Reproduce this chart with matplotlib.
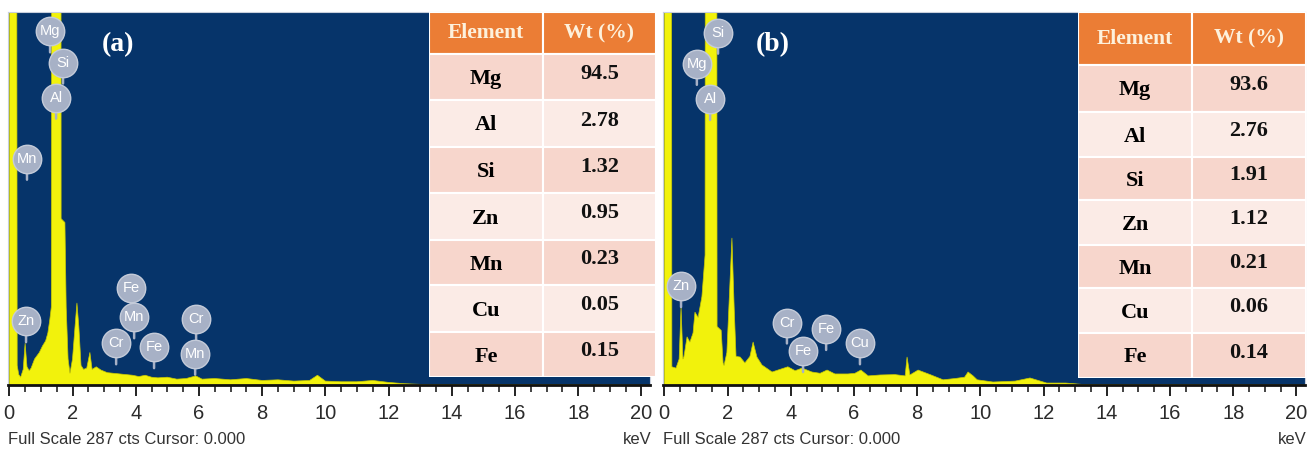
import matplotlib
matplotlib.use("Agg")
import matplotlib.pyplot as plt
from matplotlib.patches import Rectangle
from matplotlib import font_manager

W, H, DPI = 1309, 455, 100

# ---------------- data ----------------
FULL_SCALE = 287  # cts

energy_a = [0.00, 0.03, 0.20, 0.25, 0.30, 0.36, 0.44, 0.50, 0.56, 0.63, 0.69, 0.80,
            0.95, 1.05, 1.15, 1.22, 1.28, 1.33, 1.38, 1.62, 1.64, 1.76, 1.80, 1.86,
            1.92, 2.00, 2.08, 2.14, 2.20, 2.27, 2.35, 2.45, 2.55, 2.62, 2.75, 2.90,
            3.10, 3.30, 3.50, 3.70, 3.90, 4.10, 4.30, 4.50, 4.70, 5.00, 5.30, 5.60,
            5.90, 6.10, 6.50, 7.00, 7.50, 8.00, 8.50, 9.00, 9.50, 9.75, 10.00, 10.50,
            11.00, 11.50, 12.00, 12.50, 13.00, 20.30]
counts_a = [0, 1200, 1200, 15, 8, 6, 12, 32, 14, 11, 13, 20,
            25, 30, 34, 40, 50, 60, 1200, 1200, 128, 125, 60, 20,
            9, 20, 45, 63, 45, 15, 12, 13, 25, 12, 14, 11.5,
            9.5, 9, 8.5, 8, 7.5, 6.5, 7.5, 6, 5.5, 6, 4.5, 5,
            7, 4.5, 5, 4, 5, 3.5, 4, 3, 3.5, 7.5, 3, 2.5,
            2.5, 3.5, 2, 1, 0.5, 0]

energy_b = [0.00, 0.03, 0.20, 0.24, 0.37, 0.47, 0.53, 0.59, 0.62, 0.72, 0.81, 0.91,
            0.97, 1.07, 1.19, 1.29, 1.32, 1.64, 1.67, 1.80, 1.86, 1.89, 1.98, 2.08,
            2.14, 2.21, 2.27, 2.40, 2.55, 2.71, 2.81, 2.93, 3.09, 3.41, 3.66, 3.91,
            4.14, 4.36, 4.67, 4.93, 5.15, 5.40, 5.81, 6.03, 6.22, 6.45, 6.82, 7.30,
            7.62, 7.68, 7.77, 8.03, 8.41, 8.82, 9.20, 9.50, 9.61, 9.77, 9.90, 10.40,
            11.10, 11.57, 12.10, 12.70, 13.20, 20.30]
counts_b = [0, 1200, 1200, 14, 13, 20, 60, 20, 21.5, 37, 33, 40,
            56, 52, 68, 100, 1200, 1200, 45, 42, 17, 15, 25, 80,
            113, 60, 22, 21.5, 17, 22, 33, 21.5, 15.4, 10, 12, 14,
            11, 13, 10, 9, 11.5, 8.5, 8.5, 9, 11.5, 7, 7.7, 8,
            7, 21.5, 7.7, 11.5, 8, 4, 5, 6, 10, 7, 4, 2.3,
            3, 5.4, 1.5, 1.5, 0.5, 0]

# peak identification badges: (element, keV, cts)
peaks_a = [("Mg", 1.29, 272), ("Si", 1.70, 248), ("Al", 1.48, 221),
           ("Mn", 0.56, 174), ("Zn", 0.53, 49), ("Fe", 3.85, 75),
           ("Mn", 3.95, 52), ("Cr", 3.38, 32), ("Fe", 4.58, 29),
           ("Cr", 5.91, 51), ("Mn", 5.88, 24)]
peaks_b = [("Si", 1.70, 271), ("Mg", 1.03, 247), ("Al", 1.45, 220),
           ("Zn", 0.53, 76), ("Cr", 3.88, 48), ("Fe", 4.39, 26),
           ("Fe", 5.12, 43), ("Cu", 6.19, 32)]

table_header = ["Element", "Wt (%)"]
elements = ["Mg", "Al", "Si", "Zn", "Mn", "Cu", "Fe"]
wt_a = ["94.5", "2.78", "1.32", "0.95", "0.23", "0.05", "0.15"]
wt_b = ["93.6", "2.76", "1.91", "1.12", "0.21", "0.06", "0.14"]

xtick_labels = [str(v) for v in range(0, 21, 2)]

# ---------------- style ----------------
NAVY = "#06346a"
YELLOW = "#f2f20c"
BADGE = "#a7b1c6"
ORANGE = "#eb7d35"
ROW_DARK = "#f7d6cc"
ROW_LIGHT = "#fbebe6"
HEAD_TXT = "#fdf1dc"


def pick(*names):
    for n in names:
        try:
            font_manager.findfont(n, fallback_to_default=False)
            return n
        except Exception:
            pass
    return "DejaVu Sans"


SANS = pick("Liberation Sans Narrow", "Liberation Sans", "Arial")
SERIF = pick("Liberation Serif", "Times New Roman", "DejaVu Serif")

fig = plt.figure(figsize=(W / DPI, H / DPI), dpi=DPI)
fig.patch.set_facecolor("white")


def px_axes(x0, y0, x1, y1):
    return fig.add_axes([x0 / W, 1 - y1 / H, (x1 - x0) / W, (y1 - y0) / H])


def spectrum(x0, x1, energy, counts, peaks, tag):
    ax = px_axes(x0, 12, x1, 385)
    ax.set_facecolor(NAVY)
    ax.fill_between(energy, counts, 0, color=YELLOW, lw=0, zorder=2)
    ax.plot(energy, counts, color="#c9c900", lw=0.5, zorder=2)
    ax.set_xlim(-0.041, 20.27)
    ax.set_ylim(0, FULL_SCALE)
    for s in ("left", "top", "right"):
        ax.spines[s].set_color("#c8cfdc")
        ax.spines[s].set_linewidth(0.8)
    ax.spines["bottom"].set_color("#111111")
    ax.spines["bottom"].set_linewidth(2)
    ax.set_yticks([])
    ax.set_xticks(range(0, 21, 2))
    ax.set_xticklabels(xtick_labels, fontfamily=SANS, fontsize=14.5, color="#2b2b2b")
    ax.set_xticks([v * 0.5 for v in range(41)], minor=True)
    ax.tick_params(axis="x", which="major", direction="out", length=8, width=1.3,
                   color="#111111", pad=6)
    ax.tick_params(axis="x", which="minor", direction="out", length=5, width=1.1,
                   color="#111111")
    for name, e, c in peaks:
        ax.annotate("", xy=(e, c), xytext=(0, -15), textcoords="offset points",
                    xycoords="data",
                    arrowprops=dict(arrowstyle="-", color=BADGE, lw=1.8,
                                    shrinkA=0, shrinkB=0), zorder=5)
        ax.scatter([e], [c], s=420, color=BADGE, edgecolors="#c4cbd9",
                   linewidths=1.0, zorder=6)
        ax.text(e, c, name, ha="center", va="center", color="white",
                fontsize=10.5, fontfamily=SANS, zorder=7)
    ax.text(0.171, 0.912, tag, transform=ax.transAxes, ha="center", va="center",
            color="white", fontsize=20, fontweight="bold", fontfamily=SERIF, zorder=7)
    return ax


def table(x0, split, x1, edges, wts):
    ax = px_axes(x0, edges[0], x1, edges[-1])
    ax.set_xlim(x0, x1)
    ax.set_ylim(edges[-1], edges[0])
    ax.axis("off")
    cols = [(x0, split), (split, x1)]
    top, bot = edges[0], edges[1]
    for (a, b), txt in zip(cols, table_header):
        ax.add_patch(Rectangle((a, top), b - a, bot - top, facecolor=ORANGE,
                               edgecolor="white", lw=1.5))
        ax.text((a + b) / 2, (top + bot) / 2, txt, ha="center", va="center",
                fontsize=15.5, fontweight="bold", fontfamily=SERIF, color=HEAD_TXT)
    for i, (el, wt) in enumerate(zip(elements, wts)):
        t, b_ = edges[i + 1], edges[i + 2]
        face = ROW_DARK if i % 2 == 0 else ROW_LIGHT
        for (a, b) in cols:
            ax.add_patch(Rectangle((a, t), b - a, b_ - t, facecolor=face,
                                   edgecolor="white", lw=1.5))
        mid = (t + b_) / 2
        ax.text((x0 + split) / 2, mid + 2, el, ha="center", va="center",
                fontsize=16, fontweight="bold", fontfamily=SERIF, color="black")
        ax.text((split + x1) / 2, mid - 3, wt, ha="center", va="center",
                fontsize=16, fontweight="bold", fontfamily=SERIF, color="#111111")
    return ax


spectrum(8, 650, energy_a, counts_a, peaks_a, "(a)")
spectrum(663, 1305, energy_b, counts_b, peaks_b, "(b)")

table(429, 543, 656, [12, 54, 100, 147, 193, 240, 285, 332, 377], wt_a)
table(1078, 1192, 1306, [12, 65, 112, 157, 200, 245, 288, 333, 378], wt_b)

for left, right in ((8, 652), (663, 1307)):
    fig.text(left / W, 1 - 440 / H, "Full Scale %d cts Cursor: 0.000" % FULL_SCALE,
             ha="left", va="center", fontsize=12, fontfamily=SANS, color="#333333")
    fig.text(right / W, 1 - 440 / H, "keV", ha="right", va="center",
             fontsize=12, fontfamily=SANS, color="#333333")

fig.savefig("out.png", dpi=DPI, facecolor="white")
